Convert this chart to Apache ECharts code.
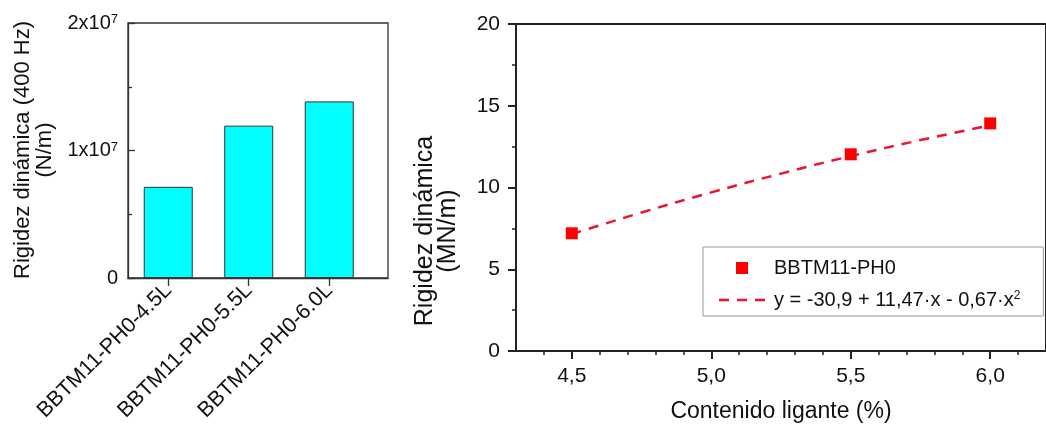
<!DOCTYPE html>
<html><head><meta charset="utf-8">
<script src="https://cdn.jsdelivr.net/npm/echarts@6/dist/echarts.min.js"></script>
<style>html,body{margin:0;padding:0;background:#fff}#c{width:1046px;height:430px}</style>
</head><body><div id="c"></div>
<script>
// ---- data ----
const barCategories = ['BBTM11-PH0-4.5L', 'BBTM11-PH0-5.5L', 'BBTM11-PH0-6.0L'];
const barPositions = [1, 2, 3];
const barValues = [7.15e6, 1.195e7, 1.385e7];
const barYTicks = [0, 1e7, 2e7];
const barYTickLabels = ['0', '1x10|7', '2x10|7'];

const pointName = 'BBTM11-PH0';
const pointX = [4.5, 5.5, 6.0];
const pointY = [7.2, 12.03, 13.92];

const fitName = 'y = -30,9 + 11,47·x - 0,67·x²';
const fitX = [4.5, 4.75, 5.0, 5.25, 5.5, 5.75, 6.0];
const fitY = [7.15, 8.47, 9.70, 10.85, 11.92, 12.90, 13.80];

const xTicks = [4.5, 5.0, 5.5, 6.0];
const xTickLabels = ['4,5', '5,0', '5,5', '6,0'];
const xMinorTicks = [4.4, 4.6, 4.7, 4.8, 4.9, 5.1, 5.2, 5.3, 5.4, 5.6, 5.7, 5.8, 5.9, 6.1];

// ---- chart ----
const FF = '"Liberation Sans", Arial, sans-serif';
const ink = '#111';
const chart = echarts.init(document.getElementById('c'));
const leftLine = {color: '#333', width: 1.3};
const rightLine = {color: '#222', width: 2};

chart.setOption({
  animation: false,
  textStyle: {fontFamily: FF, color: ink},
  grid: [
    {left: 128, top: 23, width: 260, height: 255, show: true, borderColor: '#333', borderWidth: 1.3},
    {left: 516, top: 24, width: 540, height: 327, show: true, borderColor: '#222', borderWidth: 2}
  ],
  xAxis: [
    {gridIndex: 0, type: 'value', min: 0.5, max: 3.73,
     axisLine: {show: true, onZero: false, lineStyle: leftLine},
     axisTick: {show: true, customValues: barPositions, length: 8, inside: false, lineStyle: leftLine},
     axisLabel: {customValues: barPositions, rotate: 45, margin: 9, fontSize: 21.5, color: ink,
       formatter: v => barCategories[barPositions.indexOf(Math.round(v))]},
     splitLine: {show: false}},
    {gridIndex: 1, type: 'value', min: 4.3, max: 6.2,
     axisLine: {show: true, onZero: false, lineStyle: rightLine},
     axisTick: {show: true, customValues: xTicks, length: 8, lineStyle: rightLine},
     axisLabel: {customValues: xTicks, margin: 15, fontSize: 21, color: ink,
       formatter: v => xTickLabels[xTicks.findIndex(t => Math.abs(t - v) < 1e-6)]},
     splitLine: {show: false},
     name: 'Contenido ligante (%)', nameLocation: 'middle', nameGap: 49,
     nameTextStyle: {fontSize: 23, color: ink}},
    {gridIndex: 1, type: 'value', min: 4.3, max: 6.2, position: 'bottom',
     axisLine: {show: false},
     axisTick: {show: true, customValues: xMinorTicks, length: 4, lineStyle: {color: '#222', width: 1.5}},
     axisLabel: {show: false}, splitLine: {show: false}}
  ],
  yAxis: [
    {gridIndex: 0, type: 'value', min: 0, max: 2e7, interval: 1e7,
     axisLine: {show: true, lineStyle: leftLine},
     axisTick: {show: true, inside: true, length: 7, lineStyle: leftLine},
     minorTick: {show: true, splitNumber: 2, length: 4, lineStyle: leftLine},
     splitLine: {show: false},
     axisLabel: {margin: 10, fontSize: 20, color: ink,
       formatter: v => {
         const s = barYTickLabels[barYTicks.indexOf(v)] || '';
         const p = s.split('|');
         return p.length > 1 ? '{m|' + p[0] + '}{s|' + p[1] + '}' : '{m|' + p[0] + '}';
       },
       rich: {m: {fontSize: 20, color: ink, fontFamily: FF},
              s: {fontSize: 13, color: ink, fontFamily: FF, verticalAlign: 'top'}}}},
    {gridIndex: 1, type: 'value', min: 0, max: 20, interval: 5,
     axisLine: {show: true, lineStyle: rightLine},
     axisTick: {show: true, length: 8, lineStyle: rightLine},
     minorTick: {show: true, splitNumber: 2, length: 4, lineStyle: {color: '#222', width: 1.5}},
     splitLine: {show: false},
     axisLabel: {margin: 16, fontSize: 21, color: ink}}
  ],
  legend: {
    left: 703, top: 247, orient: 'vertical',
    padding: [11, 23, 6, 16], itemGap: 12,
    borderColor: '#999', borderWidth: 1,
    itemWidth: 46, itemHeight: 12,
    data: [
      {name: pointName, icon: 'path://M0,0h10v10h-10z'},
      {name: fitName, icon: 'path://M0,0h10v2.6h-10z M18,0h10v2.6h-10z M36,0h10v2.6h-10z'}
    ],
    textStyle: {fontSize: 20, color: ink, padding: [0, 0, 0, 4],
      rich: {t: {fontSize: 20, color: ink, fontFamily: FF},
             s: {fontSize: 12, color: ink, fontFamily: FF, verticalAlign: 'top'}}},
    formatter: n => n === fitName ? '{t|' + n.slice(0, -1) + '}{s|2}' : n
  },
  graphic: [
    {type: 'text', x: 34, y: 150, rotation: Math.PI / 2,
     style: {text: 'Rigidez dinámica (400 Hz)\n(N/m)', fontSize: 22, fontFamily: FF,
             lineHeight: 22, align: 'center', verticalAlign: 'middle', fill: ink}},
    {type: 'text', x: 437, y: 231, rotation: Math.PI / 2,
     style: {text: 'Rigidez dinámica\n(MN/m)', fontSize: 25, fontFamily: FF,
             lineHeight: 23, align: 'center', verticalAlign: 'middle', fill: ink}}
  ],
  series: [
    {type: 'bar', xAxisIndex: 0, yAxisIndex: 0, barWidth: 49,
     data: barPositions.map((p, i) => [p, barValues[i]]),
     itemStyle: {color: '#00FFFF', borderColor: '#333', borderWidth: 1}},
    {type: 'line', name: fitName, xAxisIndex: 1, yAxisIndex: 1,
     data: fitX.map((x, i) => [x, fitY[i]]), smooth: true, symbol: 'none', z: 2,
     color: '#F01030',
     itemStyle: {color: '#F01030'},
     lineStyle: {color: '#F01030', width: 2.5, type: [10, 8]}},
    {type: 'scatter', name: pointName, xAxisIndex: 1, yAxisIndex: 1,
     data: pointX.map((x, i) => [x, pointY[i]]), symbol: 'rect', symbolSize: 12, z: 3,
     itemStyle: {color: '#FF0000', opacity: 1}}
  ]
});
</script></body></html>
